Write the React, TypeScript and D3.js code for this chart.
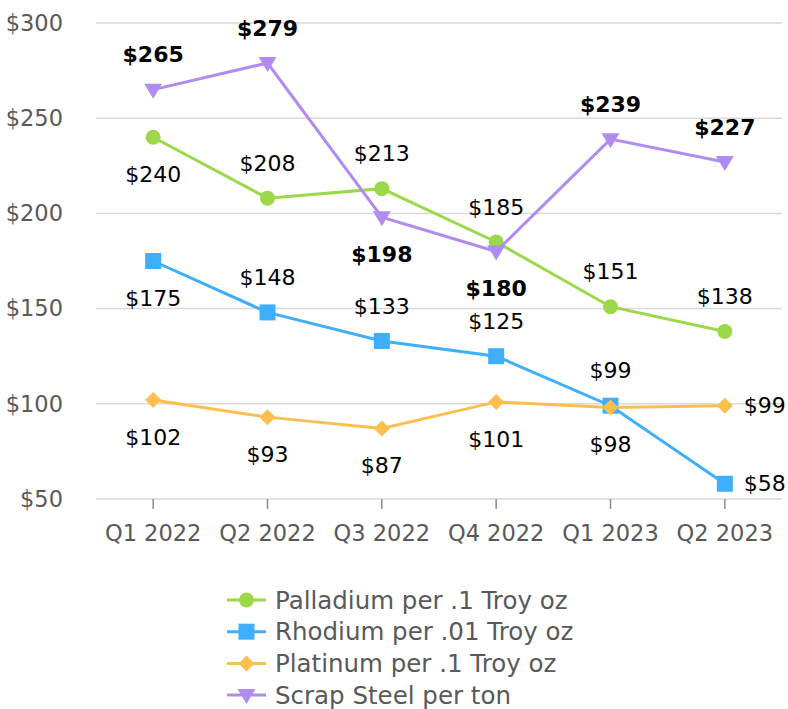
import * as d3 from "d3";

const quarters = ["Q1 2022", "Q2 2022", "Q3 2022", "Q4 2022", "Q1 2023", "Q2 2023"];
const palladium = [240, 208, 213, 185, 151, 138];
const rhodium = [175, 148, 133, 125, 99, 58];
const platinum = [102, 93, 87, 101, 98, 99];
const scrapSteel = [265, 279, 198, 180, 239, 227];
const yTicks = [50, 100, 150, 200, 250, 300];

type Place = "above" | "below" | "right";

const series = [
  {
    name: "Palladium per .1 Troy oz",
    values: palladium,
    color: "#9dd84a",
    marker: "circle",
    bold: false,
    place: ["below", "above", "above", "above", "above", "above"] as Place[],
  },
  {
    name: "Rhodium per .01 Troy oz",
    values: rhodium,
    color: "#3eaefd",
    marker: "square",
    bold: false,
    place: ["below", "above", "above", "above", "above", "right"] as Place[],
  },
  {
    name: "Platinum per .1 Troy oz",
    values: platinum,
    color: "#fbbf4d",
    marker: "diamond",
    bold: false,
    place: ["below", "below", "below", "below", "below", "right"] as Place[],
  },
  {
    name: "Scrap Steel per ton",
    values: scrapSteel,
    color: "#b18cf0",
    marker: "triangle",
    bold: true,
    place: ["above", "above", "below", "below", "above", "above"] as Place[],
  },
];

const W = 788;
const H = 709;
const margin = { top: 23, right: 6, bottom: 210, left: 96 };
const FONT = "'DejaVu Sans', sans-serif";

function Marker({ kind, x, y, color }: { kind: string; x: number; y: number; color: string }) {
  if (kind === "circle") return <circle cx={x} cy={y} r={7.5} fill={color} />;
  if (kind === "square") return <rect x={x - 8} y={y - 8} width={16} height={16} fill={color} />;
  if (kind === "diamond")
    return <path d={`M${x},${y - 8}L${x + 8},${y}L${x},${y + 8}L${x - 8},${y}Z`} fill={color} />;
  return <path d={`M${x - 9},${y - 6}L${x + 9},${y - 6}L${x},${y + 9}Z`} fill={color} />;
}

export default function App() {
  const x = d3
    .scaleBand<string>()
    .domain(quarters)
    .range([margin.left, W - margin.right]);
  const y = d3
    .scaleLinear()
    .domain([50, 300])
    .range([H - margin.bottom, margin.top]);
  const cx = (q: string) => (x(q) ?? 0) + x.bandwidth() / 2;
  const line = d3
    .line<number>()
    .x((_, i) => cx(quarters[i]))
    .y((v) => y(v));

  return (
    <svg width={W} height={H} style={{ position: "absolute", left: 0, top: 0, fontFamily: FONT }}>
      <rect width={W} height={H} fill="#fff" />
      {yTicks.map((t) => (
        <g key={t}>
          <line x1={margin.left} x2={W - margin.right} y1={y(t)} y2={y(t)} stroke="#d9d9d9" strokeWidth={1.5} />
          <text x={63} y={y(t)} dy="0.35em" textAnchor="end" fontSize={22.5} fill="#595959">
            ${t}
          </text>
        </g>
      ))}
      {quarters.map((q) => (
        <g key={q}>
          <line x1={cx(q)} x2={cx(q)} y1={y(50)} y2={y(50) + 10} stroke="#8c8c8c" strokeWidth={1.5} />
          <text x={cx(q)} y={y(50) + 34} dy="0.35em" textAnchor="middle" fontSize={22.5} fill="#595959">
            {q}
          </text>
        </g>
      ))}
      {series.map((s) => (
        <g key={s.name}>
          <path d={line(s.values) ?? ""} fill="none" stroke={s.color} strokeWidth={3} />
          {s.values.map((v, i) => (
            <Marker key={i} kind={s.marker} x={cx(quarters[i])} y={y(v)} color={s.color} />
          ))}
        </g>
      ))}
      {series.map((s) =>
        s.values.map((v, i) => {
          const px = cx(quarters[i]);
          const py = y(v);
          const p = s.place[i];
          const lx = p === "right" ? px + 19 : px;
          const ly = p === "above" ? py - 35 : p === "below" ? py + 37 : py;
          return (
            <text
              key={s.name + i}
              x={lx}
              y={ly}
              dy="0.35em"
              textAnchor={p === "right" ? "start" : "middle"}
              fontSize={22}
              fontWeight={s.bold ? "bold" : "normal"}
              fill="#000"
            >
              ${v}
            </text>
          );
        })
      )}
      {series.map((s, i) => {
        const ry = 600 + i * 31.7;
        return (
          <g key={s.name}>
            <line x1={227} x2={266} y1={ry} y2={ry} stroke={s.color} strokeWidth={3} />
            <Marker kind={s.marker} x={246.5} y={ry} color={s.color} />
            <text x={275} y={ry} dy="0.35em" fontSize={24.5} fill="#595959">
              {s.name}
            </text>
          </g>
        );
      })}
    </svg>
  );
}
